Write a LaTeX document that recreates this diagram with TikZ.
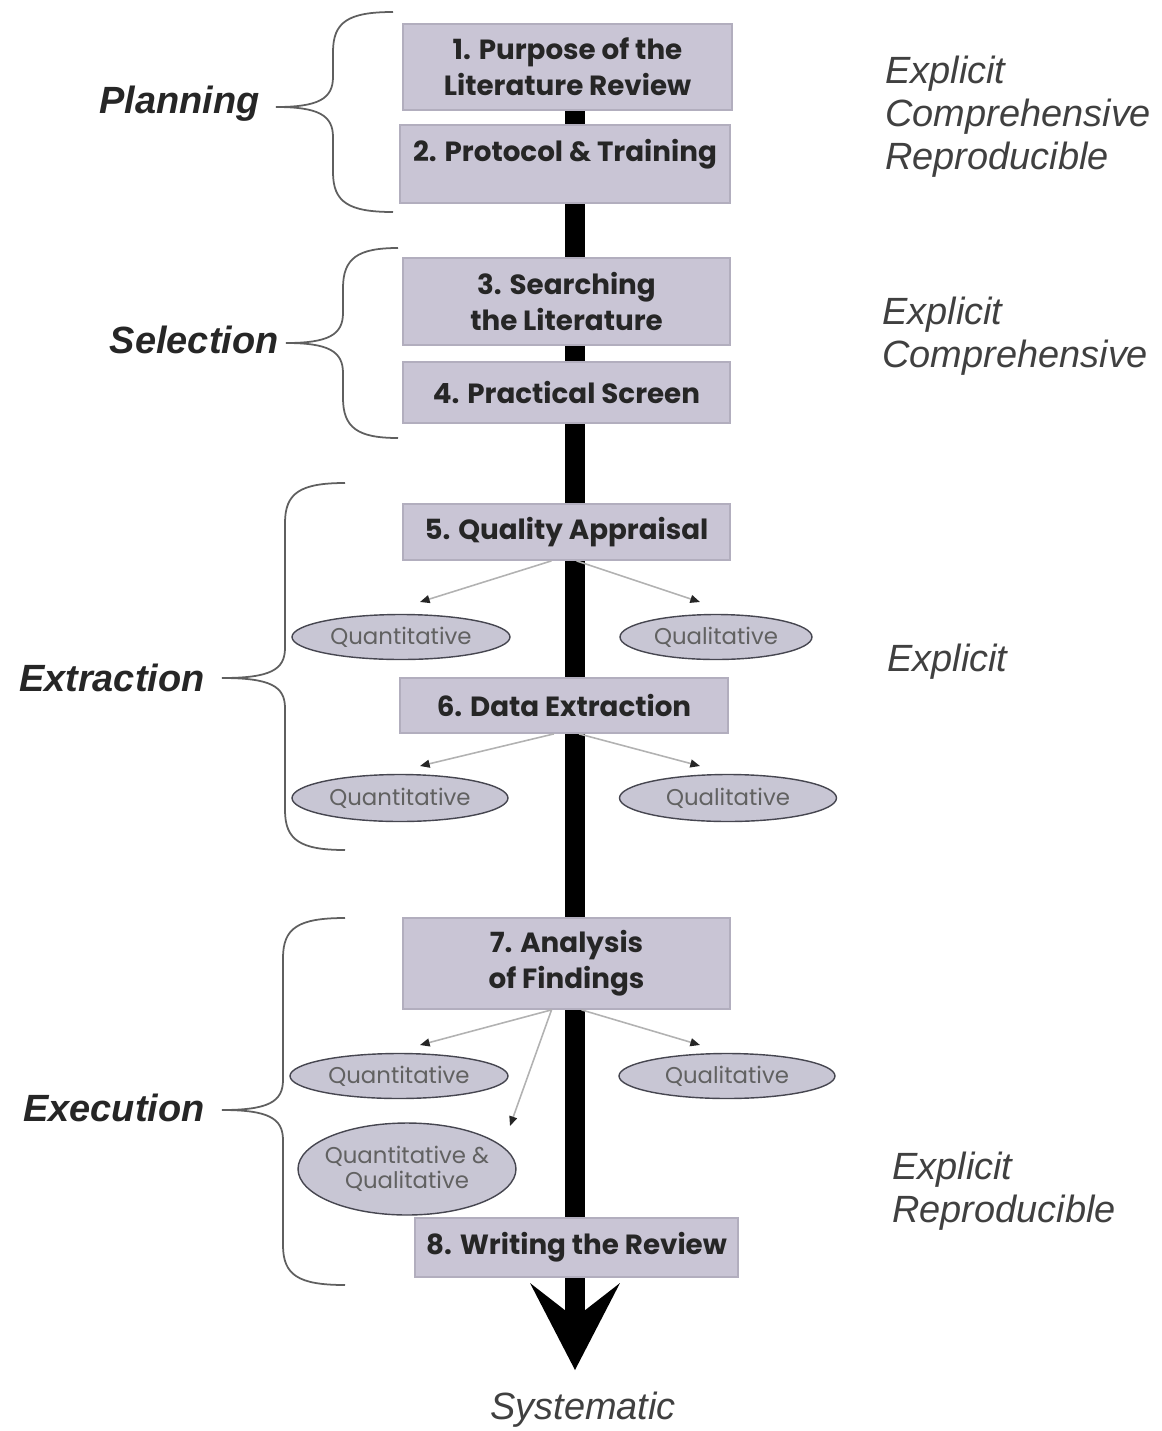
\documentclass[tikz,border=0pt]{standalone}
\usepackage{fontspec}
\setmainfont{Liberation Sans}
\newfontfamily\boxfont{Poppins}
\usetikzlibrary{arrows.meta,backgrounds,shapes.geometric}

\definecolor{boxfill}{RGB}{201,197,213}
\definecolor{boxline}{RGB}{178,174,190}
\definecolor{ovalfill}{RGB}{200,198,212}
\definecolor{ovalline}{RGB}{70,70,80}
\definecolor{bracegray}{RGB}{95,95,95}

\tikzset{
  stepbox/.style={fill=boxfill, draw=boxline, line width=1pt, inner sep=0pt, align=center,
    font=\boxfont\bfseries\fontsize{15.8}{20.5}\selectfont, text=black!85},
  oval/.style={ellipse, fill=ovalfill, draw=ovalline, line width=0.8pt, inner sep=0pt, align=center,
    font=\boxfont\fontsize{13}{14.5}\selectfont, text=black!62},
  phase/.style={anchor=east, inner sep=0pt, font=\bfseries\itshape\fontsize{21.6}{26}\selectfont, text=black!85},
  quality/.style={anchor=west, inner sep=0pt, align=left, font=\itshape\fontsize{21.6}{24.5}\selectfont, text=black!75},
  subarrow/.style={draw=black!30, line width=0.9pt, -{Triangle[length=5.5pt,width=4.5pt,color=black!85]}},
  spine/.style={line width=0.4cm, -{Stealth[length=1.74cm,width=1.8cm,inset=0.7cm,line width=0pt]}},
  bracestyle/.style={draw=bracegray, line width=1pt},
}

% curly brace: end x, spine x, tip x, top y, tip y, bottom y
\newcommand{\phasebrace}[6]{%
  \draw[bracestyle] (#1,#4) .. controls (#2+15,#4) and (#2,#4+10) .. (#2,#4+40)
    -- (#2,#5-30) .. controls (#2,#5-8) and (#2-15,#5) .. (#3,#5)
    .. controls (#2-15,#5) and (#2,#5+8) .. (#2,#5+30)
    -- (#2,#6-40) .. controls (#2,#6-10) and (#2+15,#6) .. (#1,#6);}

\begin{document}
\begin{tikzpicture}[x=0.02cm, y=-0.02cm]
\useasboundingbox (0,0) rectangle (1162,1431);

% steps
\node[stepbox, minimum width=6.58cm, minimum height=1.72cm] (purpose) at (567.5,67) {1. Purpose of the\\Literature Review};
\node[stepbox, minimum width=6.6cm, minimum height=1.56cm, text depth=0.55cm] (protocol) at (565,164) {2. Protocol \& Training};
\node[stepbox, minimum width=6.54cm, minimum height=1.74cm] (search) at (566.5,301.5) {3. Searching\\the Literature};
\node[stepbox, minimum width=6.54cm, minimum height=1.22cm] (screen) at (566.5,392.5) {4. Practical Screen};
\node[stepbox, minimum width=6.54cm, minimum height=1.12cm] (quality) at (566.5,532) {5. Quality Appraisal};
\node[stepbox, minimum width=6.56cm, minimum height=1.1cm] (extract) at (564,705.5) {6. Data Extraction};
\node[stepbox, minimum width=6.54cm, minimum height=1.82cm] (analysis) at (566.5,963.5) {7. Analysis\\of Findings};
\node[stepbox, minimum width=6.46cm, minimum height=1.18cm] (writing) at (576.5,1247.5) {8. Writing the Review};

% main arrow
\coordinate (tip) at (575,1370);
\begin{scope}[on background layer]
  \draw[spine] (tip |- purpose.center) -- (tip);
\end{scope}
\node[quality, anchor=center] (systematic) at (583,1410) {Systematic};

% sub results
\node[oval, minimum width=4.36cm, minimum height=0.9cm] (quan1) at (401,637) {Quantitative};
\node[oval, minimum width=3.84cm, minimum height=0.9cm] (qual1) at (716,637) {Qualitative};
\node[oval, minimum width=4.32cm, minimum height=0.94cm] (quan2) at (400,798) {Quantitative};
\node[oval, minimum width=4.34cm, minimum height=0.94cm] (qual2) at (728,798) {Qualitative};
\node[oval, minimum width=4.36cm, minimum height=0.9cm] (quan3) at (399,1076) {Quantitative};
\node[oval, minimum width=4.32cm, minimum height=0.9cm] (qual3) at (727,1076) {Qualitative};
\node[oval, minimum width=4.36cm, minimum height=1.84cm, inner sep=-8pt] (both3) at (407,1169) {Quantitative \&\\Qualitative};

\coordinate (quan1in) at (420,602);
\coordinate (qual1in) at (700,602);
\coordinate (quan2in) at (420,766);
\coordinate (qual2in) at (700,766);
\coordinate (quan3in) at (420,1045);
\coordinate (qual3in) at (700,1045);
\coordinate (both3in) at (510,1126);
\draw[subarrow] ([xshift=-0.3cm]quality.south) -- (quan1in);
\draw[subarrow] ([xshift=0.2cm]quality.south) -- (qual1in);
\draw[subarrow] ([xshift=-0.2cm]extract.south) -- (quan2in);
\draw[subarrow] ([xshift=0.3cm]extract.south) -- (qual2in);
\draw[subarrow] ([xshift=-0.3cm]analysis.south) -- (quan3in);
\draw[subarrow] ([xshift=0.3cm]analysis.south) -- (qual3in);
\draw[subarrow] ([xshift=-0.3cm]analysis.south) -- (both3in);

% phases
\node[phase] (planning) at (260,104) {Planning};
\node[phase] (selection) at (279,340) {Selection};
\node[phase] (extraction) at (205,678) {Extraction};
\node[phase] (execution) at (205,1108) {Execution};
\phasebrace{393}{333}{276}{12}{107}{212}
\phasebrace{398}{343}{286}{248}{343}{438}
\phasebrace{345}{285}{222}{483}{678}{850}
\phasebrace{345}{283}{222}{918}{1110}{1285}

% qualities
\node[quality] (plannote) at (885,117) {Explicit\\Comprehensive\\Reproducible};
\node[quality] (selnote) at (882,336) {Explicit\\Comprehensive};
\node[quality] (extnote) at (887,662) {Explicit};
\node[quality] (exenote) at (892,1191) {Explicit\\Reproducible};
\end{tikzpicture}
\end{document}
